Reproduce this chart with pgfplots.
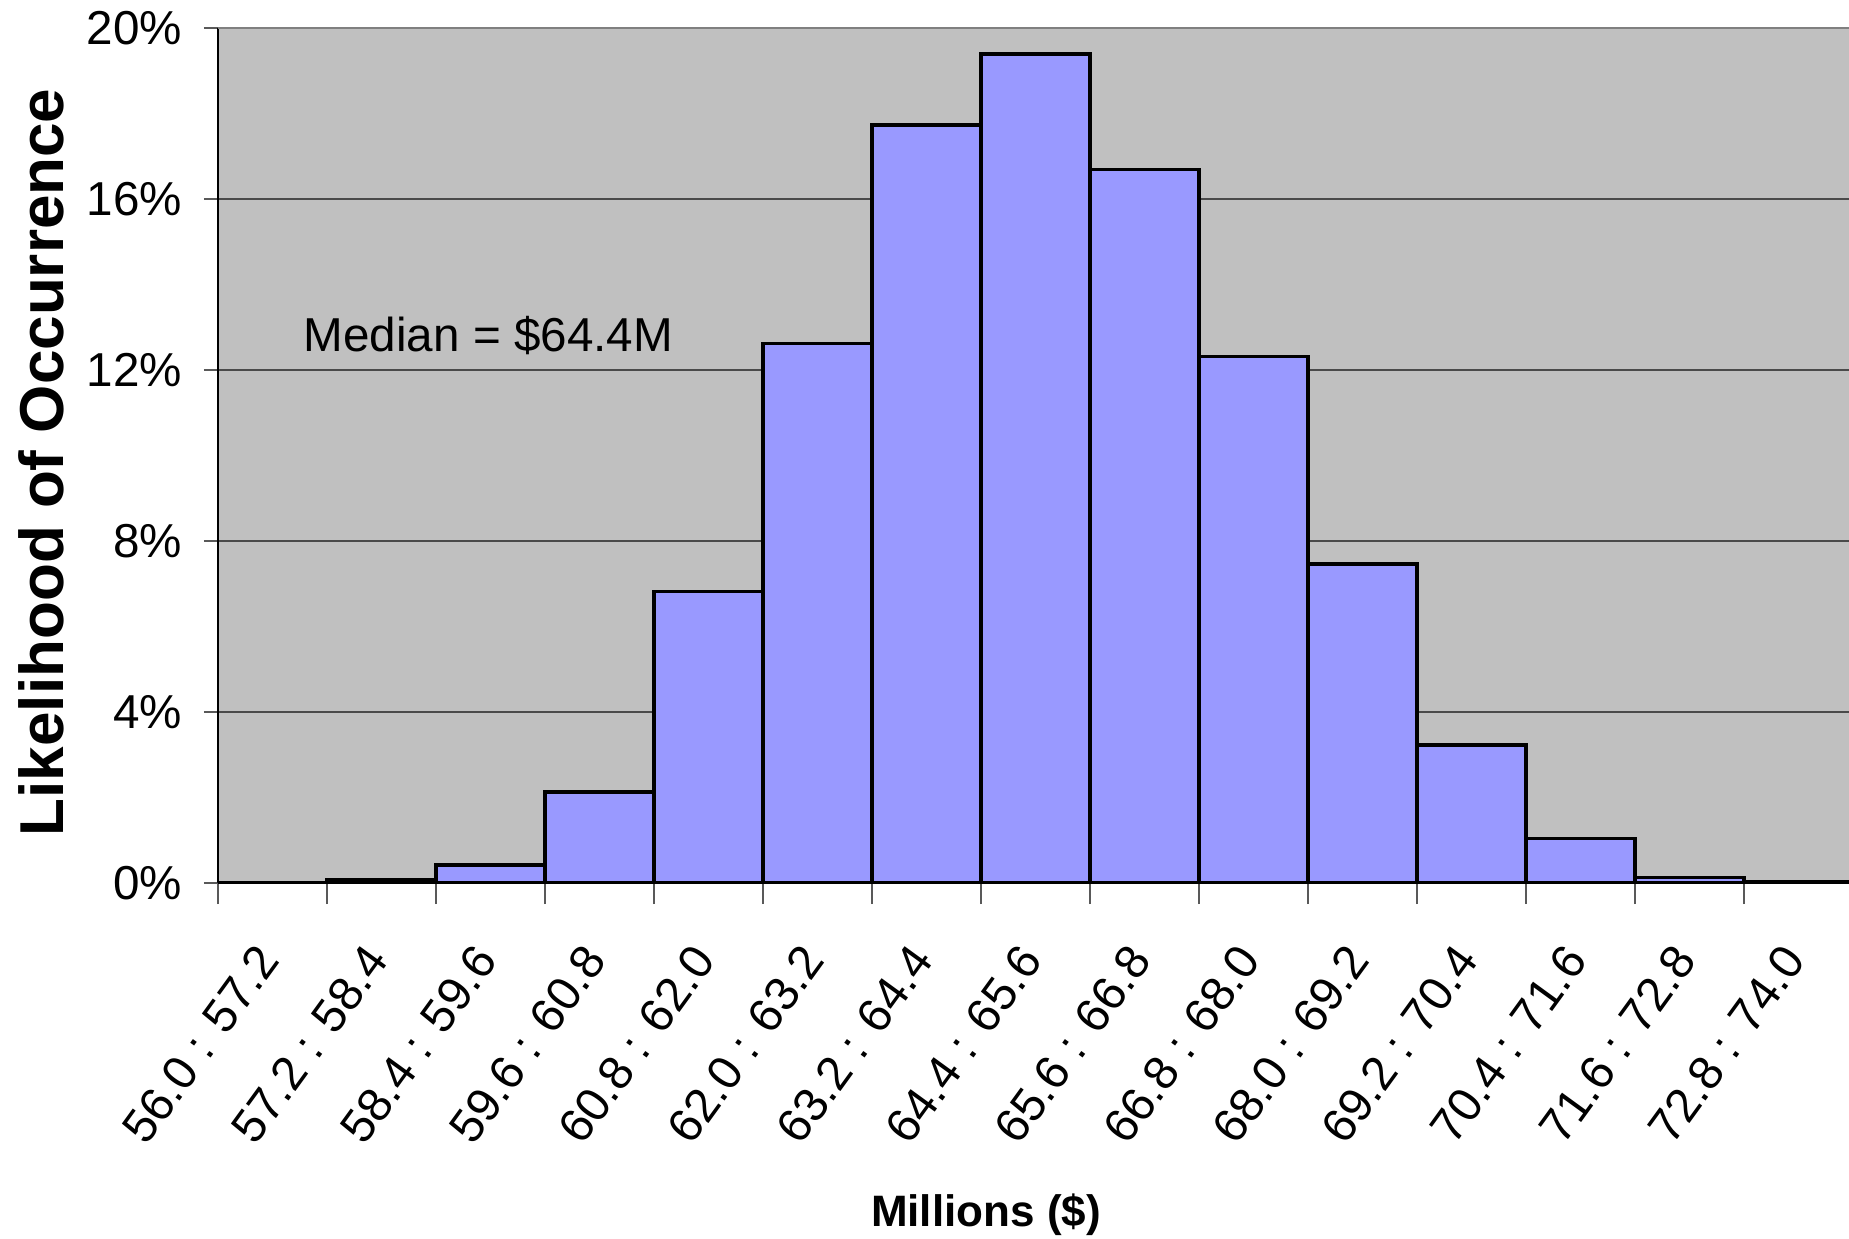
\documentclass[border=0pt]{standalone}
\usepackage{pgfplots}
\pgfplotsset{compat=1.18}
\usepackage{fontspec}
\setmainfont{Liberation Sans}

\definecolor{barfill}{HTML}{9999FF}
\definecolor{plotbg}{HTML}{C0C0C0}
\definecolor{gridline}{HTML}{4A4A4A}
\definecolor{frametop}{HTML}{808080}

\begin{document}
\begin{tikzpicture}
\begin{axis}[
  scale only axis,
  width=408.75pt, height=213.75pt,
  xmin=-0.5, xmax=14.5,
  ymin=0, ymax=20,
  axis background/.style={fill=plotbg},
  axis x line*=bottom, axis y line*=left,
  axis line style={black, line width=0.45pt},
  tick align=outside,
  ybar, bar width=1,
  xtick={0,...,14},
  xticklabels={56.0 : 57.2, 57.2 : 58.4, 58.4 : 59.6, 59.6 : 60.8, 60.8 : 62.0,
               62.0 : 63.2, 63.2 : 64.4, 64.4 : 65.6, 65.6 : 66.8, 66.8 : 68.0,
               68.0 : 69.2, 69.2 : 70.4, 70.4 : 71.6, 71.6 : 72.8, 72.8 : 74.0},
  major x tick style={draw=none},
  minor xtick={-0.5,0.5,...,13.5},
  minor tick length=5.25pt,
  major tick length=3.5pt,
  minor x tick style={draw=gray!70!black, line width=0.4pt},
  ytick={0,4,...,20},
  major y tick style={draw=gray!70!black, line width=0.4pt},
  yticklabel={\pgfmathprintnumber{\tick}\%},
  /pgf/number format/assume math mode=true,
  tick label style={text=black},
  yticklabel style={anchor=east, inner sep=0pt, xshift=-5.25pt,
                    font=\fontsize{11.9}{14}\selectfont},
  xticklabel style={yshift=-13.5pt, xshift=-1pt, rotate=54, anchor=east,
                    inner sep=0pt, font=\fontsize{11.9}{14}\selectfont},
  ymajorgrids,
  major grid style={draw=gridline, line width=0.35pt},
  ylabel={Likelihood of Occurrence},
  ylabel style={at={(axis description cs:-0.1083,0.492)}, anchor=center,
                font=\bfseries\fontsize{15.5}{18}\selectfont},
  xlabel={Millions (\$)},
  xlabel style={at={(axis description cs:0.4697,-0.388)}, anchor=center,
                font=\bfseries\fontsize{11}{13}\selectfont},
]
\addplot[fill=barfill, draw=black, line width=0.8pt] coordinates {
  (0,0.02) (1,0.07) (2,0.42) (3,2.13) (4,6.82) (5,12.62) (6,17.73) (7,19.39)
  (8,16.69) (9,12.32) (10,7.46) (11,3.23) (12,1.05) (13,0.12) (14,0.04)
};
\draw[draw=frametop, line width=0.7pt] (rel axis cs:0,1) -- (rel axis cs:1,1);
\node[anchor=base west, inner sep=0pt, font=\fontsize{11.9}{14}\selectfont]
  at (axis cs:0.28,12.44) {Median = \$64.4M};
\end{axis}
\pgfresetboundingbox
\path (-54.5pt,-89pt) rectangle (407.75pt,220.75pt);
\end{tikzpicture}
\end{document}
